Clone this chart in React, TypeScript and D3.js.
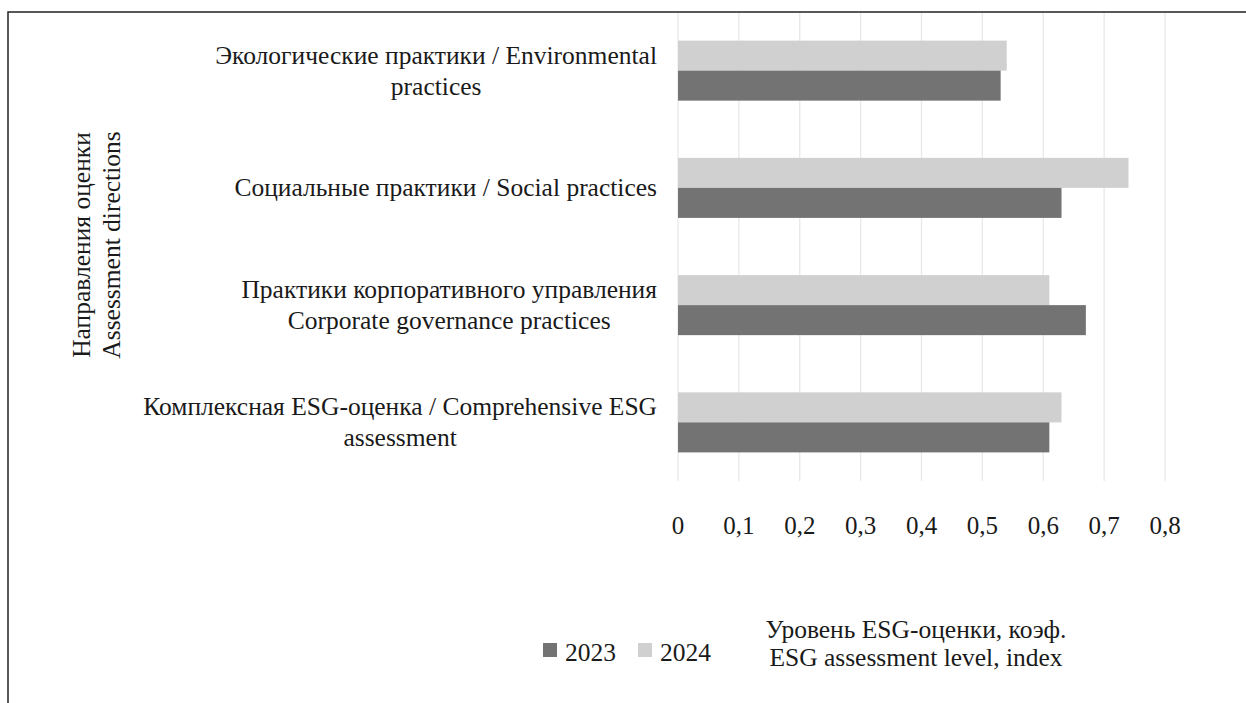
import React, { useEffect, useRef } from "react";
import * as d3 from "d3";

const categories = ["env", "soc", "gov", "esg"];
const categoryLabels = [
  ["Экологические практики / Environmental", "practices"],
  ["Социальные практики / Social practices"],
  ["Практики корпоративного управления", "Corporate governance practices"],
  ["Комплексная ESG-оценка / Comprehensive ESG", "assessment"],
];
const values2023 = [0.53, 0.63, 0.67, 0.61];
const values2024 = [0.54, 0.74, 0.61, 0.63];
const xTicks = [0, 0.1, 0.2, 0.3, 0.4, 0.5, 0.6, 0.7, 0.8];
const xTickLabels = ["0", "0,1", "0,2", "0,3", "0,4", "0,5", "0,6", "0,7", "0,8"];
const seriesNames = ["2023", "2024"];
const yTitle = ["Направления оценки", "Assessment directions"];
const xTitle = ["Уровень ESG-оценки, коэф.", "ESG assessment level, index"];

const W = 1246;
const H = 703;
const FONT = "'Liberation Serif', 'Times New Roman', serif";
const FS = 25.5;
const DARK = "#737373";
const LIGHT = "#d0d0d0";
const TEXT = "#1a1a1a";

export default function App() {
  const ref = useRef<SVGSVGElement | null>(null);

  useEffect(() => {
    const svg = d3.select(ref.current);
    svg.selectAll("*").remove();

    const x = d3.scaleLinear().domain([0, 0.8]).range([678, 1165]);
    const y = d3.scaleBand<string>().domain(categories).range([12, 481]).paddingInner(0.488).paddingOuter(0.244);
    const sub = d3.scaleBand<string>().domain(["2024", "2023"]).range([0, y.bandwidth()]);

    svg.append("rect").attr("width", W).attr("height", H).attr("fill", "#fff");

    // gridlines
    svg.append("g").selectAll("line").data(xTicks).join("line")
      .attr("x1", (d) => x(d)).attr("x2", (d) => x(d))
      .attr("y1", 12).attr("y2", 481)
      .attr("stroke", "#e8e8e8").attr("stroke-width", 1.3);

    // bars
    const g = svg.append("g");
    categories.forEach((c, i) => {
      g.append("rect").attr("x", x(0)).attr("y", (y(c) as number) + (sub("2024") as number))
        .attr("width", x(values2024[i]) - x(0)).attr("height", sub.bandwidth()).attr("fill", LIGHT);
      g.append("rect").attr("x", x(0)).attr("y", (y(c) as number) + (sub("2023") as number))
        .attr("width", x(values2023[i]) - x(0)).attr("height", sub.bandwidth()).attr("fill", DARK);
    });

    // tick labels
    svg.append("g").selectAll("text").data(xTicks).join("text")
      .attr("x", (d) => x(d)).attr("y", 525)
      .attr("text-anchor", "middle").attr("dominant-baseline", "central")
      .attr("font-family", FONT).attr("font-size", 25).attr("fill", TEXT)
      .text((d, i) => xTickLabels[i]);

    // category labels: centered lines, block right-aligned
    const lh = 31;
    categories.forEach((c, i) => {
      const lines = categoryLabels[i];
      const cy = (y(c) as number) + y.bandwidth() / 2;
      const grp = svg.append("g");
      const texts = lines.map((t, j) =>
        grp.append("text")
          .attr("y", cy + (j - (lines.length - 1) / 2) * lh)
          .attr("dominant-baseline", "central").attr("text-anchor", "middle")
          .attr("font-family", FONT).attr("font-size", FS).attr("fill", TEXT)
          .text(t)
      );
      const widths = texts.map((t) => (t.node() as SVGTextElement).getComputedTextLength());
      const maxW = Math.max(...widths);
      const center = 657 - maxW / 2;
      texts.forEach((t) => t.attr("x", center));
    });

    // y title
    yTitle.forEach((t, j) => {
      const cx = 81 + j * 30;
      svg.append("text")
        .attr("transform", `translate(${cx},245) rotate(-90)`)
        .attr("text-anchor", "middle").attr("dominant-baseline", "central")
        .attr("font-family", FONT).attr("font-size", FS).attr("fill", TEXT)
        .text(t);
    });

    // x title
    xTitle.forEach((t, j) => {
      svg.append("text")
        .attr("x", 916).attr("y", 629 + j * 28)
        .attr("text-anchor", "middle").attr("dominant-baseline", "central")
        .attr("font-family", FONT).attr("font-size", FS).attr("fill", TEXT)
        .text(t);
    });

    // legend
    const legendX = [543, 638];
    const colors = [DARK, LIGHT];
    seriesNames.forEach((s, i) => {
      svg.append("rect").attr("x", legendX[i]).attr("y", 643).attr("width", 14).attr("height", 14).attr("fill", colors[i]);
      svg.append("text").attr("x", legendX[i] + 22).attr("y", 652)
        .attr("dominant-baseline", "central")
        .attr("font-family", FONT).attr("font-size", FS).attr("fill", TEXT)
        .text(s);
    });

    // frame
    svg.append("path").attr("d", `M8,${H} L8,12 L${W},12`).attr("fill", "none")
      .attr("stroke", "#222").attr("stroke-width", 1.5);
  }, []);

  return (
    <svg ref={ref} width={W} height={H} style={{ position: "absolute", left: 0, top: 0 }} />
  );
}
